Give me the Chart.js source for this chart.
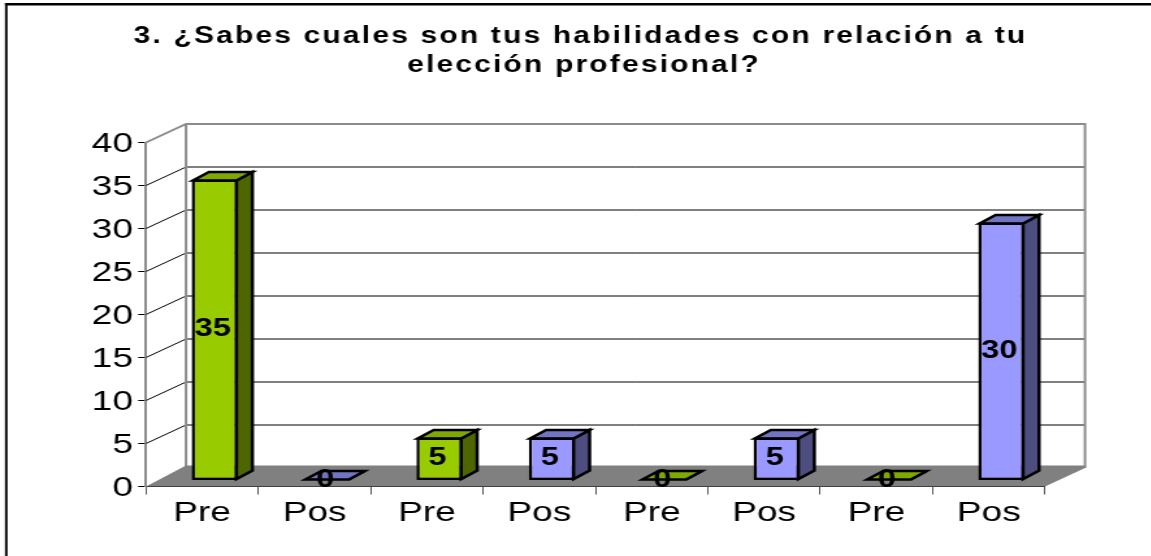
<!DOCTYPE html>
<html>
<head>
<meta charset="utf-8">
<script src="https://cdn.jsdelivr.net/npm/chart.js@4"></script>
<style>
  html, body { margin: 0; padding: 0; background: #fff; overflow: hidden; }
  /* the source picture is a wide-stretched screenshot, so the whole chart is stretched too */
  #wrap { position: absolute; left: 0; top: 0; width: 885.4px; height: 556px; transform: scaleX(1.3); transform-origin: 0 0; }
</style>
</head>
<body>
<div id="wrap"><canvas id="chart"></canvas></div>
<script>
const categories = ["Pre", "Pos", "Pre", "Pos", "Pre", "Pos", "Pre", "Pos"];
const preValues = [35, null, 5, null, 0, null, 0, null];
const posValues = [null, 0, null, 5, null, 5, null, 30];
const yTicks = [0, 5, 10, 15, 20, 25, 30, 35, 40];
const titleLines = ["3. ¿Sabes cuales son tus habilidades con relación a tu", "elección profesional?"];

const stretch = 1.3;
const wallDx = 40 / stretch, wallDy = 18.5;   // floor / wall depth
const floorDy = 21;
const barDx = 16 / stretch, barDy = 8.5;      // depth of one bar
const shiftX = 12.5 / stretch, shiftY = -6;   // bars stand in the middle of the floor

// Walls, floor and gridlines behind the bars
const walls = {
    id: 'walls',
    beforeDatasetsDraw(chart) {
        const { ctx, chartArea: a, scales: { y } } = chart;
        ctx.save();
        ctx.strokeStyle = '#000';
        ctx.lineWidth = 1;
        yTicks.slice(1, -1).forEach(v => {
            const py = y.getPixelForValue(v);
            ctx.beginPath();
            ctx.moveTo(a.left, py);
            ctx.lineTo(a.left + wallDx, py - wallDy);
            ctx.lineTo(a.right + wallDx, py - wallDy);
            ctx.stroke();
        });

        ctx.strokeStyle = '#8c8c8c';
        ctx.lineWidth = 2;
        ctx.beginPath();
        ctx.moveTo(a.left, a.top);
        ctx.lineTo(a.left + wallDx, a.top - wallDy);
        ctx.lineTo(a.right + wallDx, a.top - wallDy);
        ctx.lineTo(a.right + wallDx, a.bottom - wallDy);
        ctx.moveTo(a.left + wallDx, a.top - wallDy);
        ctx.lineTo(a.left + wallDx, a.bottom - wallDy);
        ctx.stroke();

        ctx.fillStyle = '#808080';
        ctx.beginPath();
        ctx.moveTo(a.left, a.bottom);
        ctx.lineTo(a.left + wallDx, a.bottom - floorDy);
        ctx.lineTo(a.right + wallDx, a.bottom - floorDy);
        ctx.lineTo(a.right + wallDx, a.bottom - wallDy);
        ctx.lineTo(a.right, a.bottom);
        ctx.closePath();
        ctx.fill();
        ctx.restore();
    }
};

function drawFace(ctx, pts, fill) {
    ctx.fillStyle = fill;
    ctx.beginPath();
    pts.forEach((p, i) => i ? ctx.lineTo(p[0], p[1]) : ctx.moveTo(p[0], p[1]));
    ctx.closePath();
    ctx.fill();
    ctx.stroke();
}

// Side and top faces; the front face is the normal Chart.js bar
const bars3d = {
    id: 'bars3d',
    beforeDatasetsDraw(chart) {
        const ctx = chart.ctx;
        ctx.save();
        ctx.translate(shiftX, shiftY);
        ctx.strokeStyle = '#000';
        ctx.lineWidth = 2.5;
        ctx.lineJoin = 'miter';
        chart.data.datasets.forEach((ds, i) => {
            chart.getDatasetMeta(i).data.forEach((bar, j) => {
                if (ds.data[j] === null) return;
                const l = bar.x - bar.width / 2 + 1, r = bar.x + bar.width / 2 - 1;
                const t = bar.y + 1, b = bar.base - 1;
                const top = Math.min(t, b);
                drawFace(ctx, [[r, top], [r + barDx, top - barDy], [r + barDx, b - barDy], [r, b]], ds.sideColor);
                drawFace(ctx, [[l, top], [r, top], [r + barDx, top - barDy], [l + barDx, top - barDy]], ds.topColor);
            });
        });
        ctx.restore();
        ctx.save();
        ctx.translate(shiftX, shiftY);
    },
    afterDatasetsDraw(chart) {
        const ctx = chart.ctx;
        ctx.restore();
        ctx.save();
        ctx.fillStyle = '#000';
        ctx.font = 'bold 25px "Liberation Sans"';
        ctx.textAlign = 'center';
        ctx.textBaseline = 'middle';
        chart.data.datasets.forEach((ds, i) => {
            chart.getDatasetMeta(i).data.forEach((bar, j) => {
                if (ds.data[j] === null) return;
                ctx.fillText(String(ds.data[j]), bar.x + shiftX - 1.5, (bar.y + bar.base) / 2 + shiftY - 0.5);
            });
        });
        ctx.restore();
    }
};

// Title and frame
const frame = {
    id: 'frame',
    afterDraw(chart) {
        const ctx = chart.ctx;
        ctx.save();
        ctx.fillStyle = '#000';
        ctx.fillRect(5 / stretch, 3, 2.5 / stretch, 553);
        ctx.fillRect(5 / stretch, 3, 1151 / stretch, 2.5);
        ctx.font = 'bold 23px "Liberation Sans"';
        ctx.letterSpacing = '1.7px';
        ctx.textAlign = 'center';
        ctx.textBaseline = 'middle';
        ctx.fillText(titleLines[0], 580.5 / stretch, 37);
        ctx.fillText(titleLines[1], 584 / stretch, 66);
        ctx.restore();
    }
};

new Chart(document.getElementById('chart'), {
    type: 'bar',
    data: {
        labels: categories,
        datasets: [
            { label: 'Pre', data: preValues, backgroundColor: '#99CC00', borderColor: '#000', borderWidth: 2.5, borderSkipped: false,
              sideColor: '#4D6600', topColor: '#7FA800', clip: false, barPercentage: 0.41, categoryPercentage: 1 },
            { label: 'Pos', data: posValues, backgroundColor: '#9999FF', borderColor: '#000', borderWidth: 2.5, borderSkipped: false,
              sideColor: '#4D4D80', topColor: '#7373C4', clip: false, barPercentage: 0.41, categoryPercentage: 1 }
        ]
    },
    options: {
        responsive: true,
        maintainAspectRatio: false,
        animation: false,
        layout: { padding: { top: 142.5, left: 0, right: (1151 - 1045) / stretch, bottom: 0 } },
        plugins: { legend: { display: false }, tooltip: { enabled: false } },
        scales: {
            x: {
                stacked: true,
                afterFit: s => { s.height = 69.5; },
                grid: { drawOnChartArea: false, tickLength: 8, color: '#555', lineWidth: 1 },
                border: { color: '#000', width: 1 },
                ticks: { color: '#000', padding: 2, maxRotation: 0, font: { family: '"Liberation Sans"', size: 28.5 } }
            },
            y: {
                stacked: true,
                min: 0,
                max: 40,
                afterFit: s => { s.width = 146 / stretch; },
                afterBuildTicks: s => { s.ticks = yTicks.map(v => ({ value: v })); },
                grid: { drawOnChartArea: false, tickLength: 6, color: '#000', lineWidth: 1 },
                border: { color: '#8c8c8c', width: 2 },
                ticks: { color: '#000', padding: 4, labelOffset: 2, font: { family: '"Liberation Sans"', size: 28.5 } }
            }
        }
    },
    plugins: [walls, bars3d, frame]
});
</script>
</body>
</html>
